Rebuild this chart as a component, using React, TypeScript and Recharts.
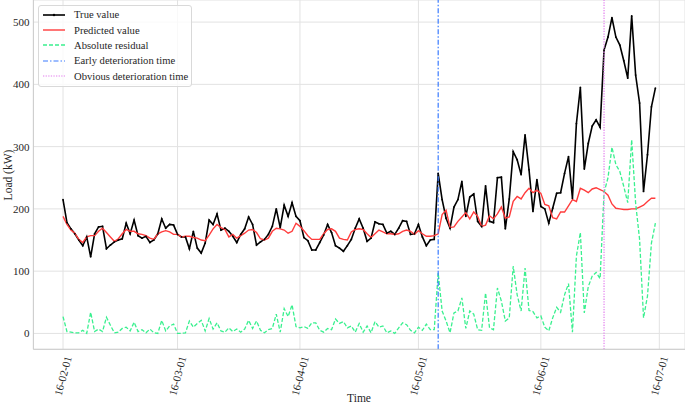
import React from 'react';
import {
  LineChart, Line, XAxis, YAxis, CartesianGrid, Legend, ReferenceLine,
} from 'recharts';

const FONT = '"Liberation Serif", "Times New Roman", serif';
const DAY = 24 * 3600 * 1000;
const START = Date.UTC(2016, 1, 1);

// daily load, 2016-02-01 .. 2016-06-30
const trueValue = [
  215, 178, 168, 160, 150, 141, 155, 123, 160, 171, 172, 136, 142, 147, 150, 152, 177, 160, 182, 157, 153, 156, 146, 150,
  160, 184, 169, 175, 174, 159, 155, 155, 136, 164, 137, 129, 145, 182, 175, 192, 166, 169, 164, 156, 146, 159, 168, 187,
  175, 142, 147, 151, 159, 172, 200, 170, 206, 188, 210, 188, 181, 154, 149, 134, 134, 146, 158, 175, 162, 141, 137, 132,
  141, 151, 169, 184, 169, 148, 153, 179, 176, 175, 161, 164, 159, 169, 181, 180, 159, 160, 175, 155, 141, 150, 151, 257,
  215, 185, 169, 203, 215, 244, 188, 219, 224, 180, 172, 237, 180, 178, 250, 251, 168, 216, 292, 279, 255, 319, 263, 196, 247,
  204, 200, 177, 201, 225, 226, 257, 284, 217, 337, 395, 264, 305, 333, 343, 331, 455, 476, 507, 476, 463, 438, 410, 510, 415, 370, 228, 287, 364, 394,
];

const predictedValue = [
  188, 175, 166, 161, 151, 146, 155, 157, 157, 164, 169, 162, 155, 148, 152, 160, 167, 164, 164, 160, 159, 157, 153, 151,
  160, 163, 165, 163, 159, 159, 155, 156, 156, 154, 153, 150, 149, 158, 168, 175, 170, 167, 155, 159, 153, 157, 161, 166,
  167, 162, 152, 150, 153, 164, 169, 168, 166, 161, 164, 177, 172, 165, 157, 151, 151, 151, 160, 167, 168, 164, 153, 151,
  150, 163, 167, 168, 167, 160, 154, 160, 166, 163, 160, 160, 159, 160, 164, 166, 164, 159, 165, 160, 156, 156, 157, 160,
  191, 198, 170, 171, 180, 187, 194, 184, 195, 188, 172, 174, 189, 184, 192, 203, 185, 187, 212, 220, 216, 226, 233, 226, 230,
  225, 207, 205, 186, 184, 195, 195, 205, 215, 212, 233, 230, 226, 232, 234, 231, 228, 222, 208, 201, 200, 199, 199, 200, 200, 203, 206, 212, 217, 217,
];

const residual = [
  27, 3, 2, 1, 1, 5, 0, 34, 3, 7, 3, 26, 13, 1, 2, 8, 10, 4, 18, 3, 6, 1, 7, 1,
  0, 21, 4, 12, 15, 0, 0, 1, 20, 10, 16, 21, 4, 24, 7, 17, 4, 2, 9, 3, 7, 2, 7, 21,
  8, 20, 5, 1, 6, 8, 31, 2, 40, 27, 46, 11, 9, 11, 8, 17, 17, 5, 2, 8, 6, 23, 16, 19,
  9, 12, 2, 16, 2, 12, 1, 19, 10, 12, 1, 4, 0, 9, 17, 14, 5, 1, 10, 5, 15, 6, 6, 97,
  36, 20, 1, 33, 36, 57, 8, 36, 31, 6, 5, 65, 9, 6, 73, 52, 20, 25, 108, 62, 36, 105, 37, 35, 25,
  28, 10, 4, 25, 42, 34, 62, 80, 2, 124, 162, 33, 75, 92, 98, 88, 226, 250, 299, 271, 260, 236, 210, 311, 209, 151, 25, 60, 145, 177,
];

const monthTicks = [
  Date.UTC(2016, 1, 1), Date.UTC(2016, 2, 1), Date.UTC(2016, 3, 1),
  Date.UTC(2016, 4, 1), Date.UTC(2016, 5, 1), Date.UTC(2016, 6, 1),
];
const monthLabels = ['16-02-01', '16-03-01', '16-04-01', '16-05-01', '16-06-01', '16-07-01'];
const yTicks = [0, 100, 200, 300, 400, 500];

const earlyTime = Date.UTC(2016, 4, 6);
const obviousTime = Date.UTC(2016, 5, 17);

const data = trueValue.map((v, i) => ({
  t: START + i * DAY,
  trueValue: v,
  predicted: predictedValue[i],
  residual: residual[i],
}));

const legendItems = [
  { label: 'True value', color: '#000000', dash: undefined, width: 1.6, dot: true },
  { label: 'Predicted value', color: '#ff3c3c', dash: undefined, width: 1.4 },
  { label: 'Absolute residual', color: '#3af08f', dash: '4 2', width: 1.4 },
  { label: 'Early deterioration time', color: '#3a7bff', dash: '5 2 1.5 2', width: 1.2 },
  { label: 'Obvious deterioration time', color: '#e37fee', dash: '1.3 1.3', width: 1.2 },
];

const LegendBox = () => (
  <div style={{
    boxSizing: 'border-box', width: 154, height: 82, padding: '1px 0 0 0',
    background: 'rgba(255,255,255,0.8)', border: '1px solid #d9d9d9', borderRadius: 3,
    fontFamily: FONT, fontSize: 10.6, color: '#262626',
  }}>
    {legendItems.map((it) => (
      <div key={it.label} style={{ display: 'flex', alignItems: 'center', height: 15.4, whiteSpace: 'nowrap' }}>
        <svg width={30} height={8} style={{ marginLeft: 3, flex: 'none' }}>
          <line x1={1} y1={4} x2={23} y2={4} stroke={it.color} strokeWidth={it.width} strokeDasharray={it.dash} />
          {it.dot && <circle cx={12} cy={4} r={1.2} fill={it.color} />}
        </svg>
        <span style={{ marginLeft: 2 }}>{it.label}</span>
      </div>
    ))}
  </div>
);

const DateTick = ({ x, y, payload }: any) => {
  const i = monthTicks.indexOf(payload.value);
  const px = x + 5;
  const py = y + 5;
  return (
    <text x={px} y={py} transform={`rotate(-75 ${px} ${py})`} textAnchor="end" dominantBaseline="central"
      fontSize={11} fontFamily={FONT} fill="#262626">
      {monthLabels[i]}
    </text>
  );
};

export default function App() {
  return (
    <div style={{ position: 'absolute', left: 0, top: 0, width: 685, height: 404, background: '#fff' }}>
      <LineChart width={685} height={404} data={data} margin={{ top: 0, right: 0, bottom: 0, left: 0 }}>
        <CartesianGrid stroke="#e2e2e2" strokeWidth={1} />
        <XAxis
          dataKey="t"
          type="number"
          domain={[START - 7.5 * DAY, START + 157.5 * DAY]}
          allowDataOverflow
          ticks={monthTicks}
          interval={0}
          height={54.7}
          tickSize={0}
          tickLine={false}
          axisLine={{ stroke: '#cccccc' }}
          tick={<DateTick />}
          label={{
            content: () => (
              <text x={359} y={402} textAnchor="middle" fontSize={11.5} fontFamily={FONT} fill="#262626">Time</text>
            ),
          }}
        />
        <YAxis
          type="number"
          domain={[-25.5, 535.5]}
          allowDataOverflow
          ticks={yTicks}
          width={33.4}
          tickSize={0}
          tickMargin={4}
          tickLine={false}
          axisLine={{ stroke: '#cccccc' }}
          tick={{ fontSize: 11, fontFamily: FONT, fill: '#262626' }}
          label={{
            content: () => (
              <text x={12} y={175} transform="rotate(-90 12 175)" textAnchor="middle" fontSize={11.5}
                fontFamily={FONT} fill="#262626">Load (kW)</text>
            ),
          }}
        />
        <Legend
          layout="vertical"
          align="center"
          verticalAlign="middle"
          wrapperStyle={{ left: 38, top: 5, width: 154 }}
          content={<LegendBox />}
        />
        <Line type="linear" dataKey="trueValue" name="True value" stroke="#000000" strokeWidth={1.6}
          dot={{ r: 0.9, fill: '#000', stroke: 'none' }} activeDot={false} isAnimationActive={false} />
        <Line type="linear" dataKey="predicted" name="Predicted value" stroke="#ff3c3c" strokeWidth={1.4}
          dot={false} activeDot={false} isAnimationActive={false} />
        <Line type="linear" dataKey="residual" name="Absolute residual" stroke="#3af08f" strokeWidth={1.3}
          strokeDasharray="4 2" dot={false} activeDot={false} isAnimationActive={false} />
        <ReferenceLine x={earlyTime} stroke="#3a7bff" strokeWidth={1.2} strokeDasharray="5 2 1.5 2" />
        <ReferenceLine x={obviousTime} stroke="#e37fee" strokeWidth={1.2} strokeDasharray="1.3 1.3" />
      </LineChart>
    </div>
  );
}
